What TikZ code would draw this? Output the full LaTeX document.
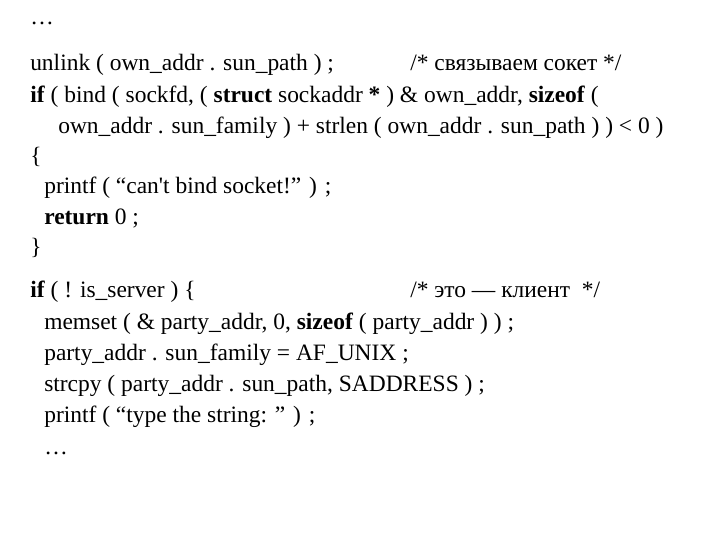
\documentclass[tikz,border=0pt]{standalone}
\usepackage{fontspec}
\setmainfont{Liberation Serif}
\newfontfamily\plainf{Liberation Serif}
\begin{document}
\begin{tikzpicture}[x=0.75pt,y=-0.75pt,t/.style={anchor=base west,inner sep=0pt,font=\fontsize{17.6}{19}\selectfont}]
\useasboundingbox[fill=white] (0,0) rectangle (720,540);
\node[t] (l0) at (30,24) {\dots};
\node[t] (l1) at (30,70) {unlink ( own\_addr . sun\_path ) ;};
\node[t] (c1) at (410,70) {/* связываем сокет */};
\node[t] (l2) at (30,102) {\textbf{if} ( bind ( sockfd, ( \textbf{struct} sockaddr \textbf{*} ) \& own\_addr, \textbf{sizeof} (};
\node[t] (l3) at (58,133) {own\_addr . sun\_family ) + strlen ( own\_addr . sun\_path ) ) < 0 )};
\node[t] (l4) at (30,163) {\{};
\node[t] (l5) at (44,193) {printf ( “can{\plainf'}t bind socket!” ) ;};
\node[t] (l6) at (44,224) {\textbf{return} 0 ;};
\node[t] (l7) at (30,254) {\}};
\node[t] (l8) at (30,297) {\textbf{if} ( ! is\_server ) \{};
\node[t] (c8) at (410,297) {/* это — клиент~ */};
\node[t] (l9) at (44,329) {memset ( \& party\_addr, 0, \textbf{sizeof} ( party\_addr ) ) ;};
\node[t] (l10) at (44,360) {party\_addr . sun\_family = AF\_UNIX ;};
\node[t] (l11) at (44,391) {strcpy ( party\_addr . sun\_path, SADDRESS ) ;};
\node[t] (l12) at (44,422) {printf ( “type the string: ” ) ;};
\node[t] (l13) at (44,454) {\dots};
\end{tikzpicture}
\end{document}
